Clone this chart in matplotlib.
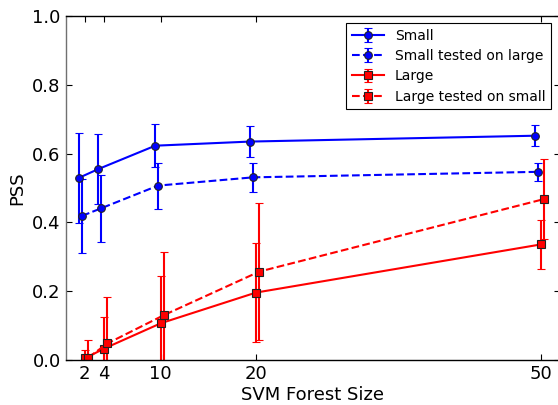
import matplotlib
matplotlib.use("Agg")
import matplotlib.pyplot as plt
import numpy as np

forest_sizes = [2, 4, 10, 20, 50]
xtick_labels = ["2", "4", "10", "20", "50"]
yticks = [0.0, 0.2, 0.4, 0.6, 0.8, 1.0]

small = [0.530, 0.555, 0.623, 0.635, 0.652]
small_err = [0.131, 0.102, 0.063, 0.045, 0.030]

small_on_large = [0.419, 0.441, 0.507, 0.531, 0.547]
small_on_large_err = [0.108, 0.097, 0.067, 0.043, 0.027]

large = [0.005, 0.033, 0.107, 0.196, 0.336]
large_err = [0.025, 0.093, 0.137, 0.143, 0.071]

large_on_small = [0.007, 0.048, 0.131, 0.257, 0.468]
large_on_small_err = [0.050, 0.136, 0.182, 0.200, 0.117]

series = [
    ("Small", small, small_err, "#0000ff", "o", "-", -0.55),
    ("Small tested on large", small_on_large, small_on_large_err, "#0000ff", "o", "--", -0.25),
    ("Large", large, large_err, "#ff0000", "s", "-", 0.05),
    ("Large tested on small", large_on_small, large_on_small_err, "#ff0000", "s", "--", 0.4),
]

fig = plt.figure(figsize=(5.58, 4.05), dpi=100)
ax = fig.add_axes([65.5 / 558, 1 - 360 / 405, (559.5 - 65.5) / 558, (360 - 16) / 405])

for label, vals, errs, color, marker, ls, off in series:
    xs = np.array(forest_sizes, dtype=float) + off
    ax.errorbar(xs, vals, yerr=errs, color=color, ecolor=color, linestyle=ls,
                linewidth=1.5, elinewidth=1.5, capsize=3, capthick=1.5,
                marker=marker, markersize=5.5, markerfacecolor=color,
                markeredgecolor="#202020", markeredgewidth=0.8, label=label)

ax.set_xlim(0, 52)
ax.set_ylim(0, 1.0)
ax.set_xticks(forest_sizes)
ax.set_xticklabels(xtick_labels)
ax.set_yticks(yticks)
ax.set_yticklabels([f"{v:.1f}" for v in yticks])
ax.tick_params(direction="in", top=True, right=True, labelsize=13, length=4, width=0.8)
ax.set_xlabel("SVM Forest Size", fontsize=13, labelpad=2)
ax.set_ylabel("PSS", fontsize=13, labelpad=4)
for s in ax.spines.values():
    s.set_color("black")
    s.set_linewidth(1.0)
ax.spines["left"].set_color("#707070")

leg = ax.legend(loc="upper right", bbox_to_anchor=((551 - 65.5) / 494, (360 - 23.3) / 344),
                borderaxespad=0, fontsize=10,
                fancybox=False, edgecolor="black", framealpha=1,
                borderpad=0.4, labelspacing=0.45, handlelength=2.3, handletextpad=0.8)
leg.get_frame().set_linewidth(0.8)

fig.savefig("out.png", dpi=100)
